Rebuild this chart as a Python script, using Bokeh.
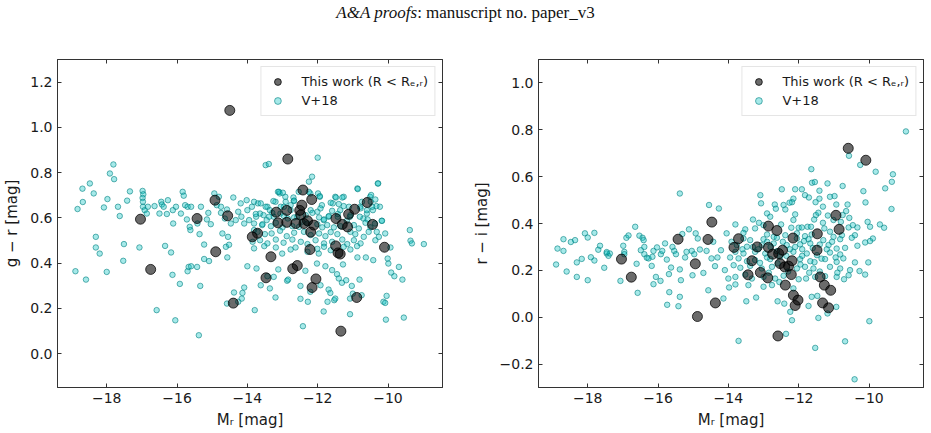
from bokeh.plotting import figure
from bokeh.models import (LinearAxis, FixedTicker, CustomJSTickFormatter, Legend,
                          LegendItem, Div, ColumnDataSource)
from bokeh.layouts import column, row
from bokeh.embed import file_html
from bokeh.resources import INLINE

# ---------------------------------------------------------------- ticks
MR_TICKS = [-18, -16, -14, -12, -10]
GR_TICKS = [0.0, 0.2, 0.4, 0.6, 0.8, 1.0, 1.2]
RI_TICKS = [-0.2, 0.0, 0.2, 0.4, 0.6, 0.8, 1.0]

# ---------------------------------------------------------------- this work (R < R_e,r)
this_gr_mr = [-14.50, -12.85, -12.42, -12.17, -14.92, -12.45, -12.51, -12.88, -13.18, -12.48,
              -14.56, -15.43, -17.04, -10.59, -10.95, -11.12, -11.48, -10.44, -11.30, -11.15,
              -13.13, -12.88, -12.62, -12.39, -12.29, -12.11, -12.20, -13.71, -13.86, -11.49,
              -10.10, -14.90, -12.22, -11.42, -11.36, -16.75, -13.33, -12.71, -12.58, -13.47,
              -12.05, -12.16, -14.40, -10.89, -11.34]
this_gr = [1.075, 0.860, 0.723, 0.681, 0.678, 0.656, 0.633, 0.633, 0.625, 0.613,
           0.609, 0.597, 0.594, 0.668, 0.638, 0.616, 0.597, 0.571, 0.571, 0.560,
           0.578, 0.580, 0.575, 0.575, 0.587, 0.568, 0.537, 0.532, 0.516, 0.476,
           0.470, 0.450, 0.460, 0.445, 0.440, 0.372, 0.428, 0.375, 0.389, 0.335,
           0.330, 0.292, 0.223, 0.248, 0.099]

this_ri_mr = [-10.59, -10.09, -14.47, -15.43, -14.58, -13.71, -12.86, -12.62, -12.16, -10.94,
              -10.85, -11.47, -11.48, -17.04, -16.76, -14.94, -13.84, -13.18, -12.86, -12.74,
              -12.57, -12.46, -13.33, -12.53, -12.40, -12.29, -12.19, -13.09, -13.44, -12.88,
              -12.21, -12.38, -12.15, -12.02, -12.10, -11.39, -11.27, -11.09, -11.32, -11.15,
              -14.37, -14.88, -12.59]
this_ri = [0.721, 0.670, 0.406, 0.333, 0.332, 0.335, 0.389, 0.370, 0.338, 0.435,
           0.375, 0.356, 0.286, 0.248, 0.171, 0.228, 0.298, 0.300, 0.298, 0.269,
           0.272, 0.286, 0.241, 0.229, 0.215, 0.218, 0.241, 0.191, 0.181, 0.168,
           0.182, 0.137, 0.094, 0.073, 0.050, 0.172, 0.137, 0.115, 0.061, 0.040,
           0.061, 0.003, -0.080]

# ---------------------------------------------------------------- V+18, g - r
v18_gr_mr_upper = [-18.83, -18.68, -18.69, -18.48, -18.37, -18.08, -17.98, -17.91, -17.81, -17.79,
                   -17.68, -17.63, -17.42, -17.34, -16.98, -16.96, -16.98, -16.97, -16.97, -16.92,
                   -16.86, -16.83, -16.64, -16.50, -16.45, -16.43, -16.38, -16.26, -16.29, -16.12,
                   -16.03, -16.11, -15.89, -15.84, -15.81, -15.77, -15.70, -15.60, -15.72, -15.64,
                   -15.62, -15.42, -15.36, -15.32, -15.15, -15.11, -15.04, -14.94, -14.87, -14.81,
                   -14.75, -14.75, -14.71, -14.64, -14.58, -14.55, -14.47, -14.40, -14.33, -14.26,
                   -14.19, -14.17, -14.09, -14.02, -14.00, -13.95, -13.87, -13.81, -13.75, -13.70,
                   -13.64, -13.58, -13.48, -13.39, -13.43, -13.45, -13.36, -13.25, -13.20, -13.13,
                   -13.08, -13.06, -12.96, -12.92, -12.85, -12.77, -12.68, -12.58, -12.54, -12.44,
                   -12.25, -12.21, -12.16, -12.00, -11.94, -11.88, -11.83, -11.69, -11.57, -11.50,
                   -11.43, -11.36, -11.26, -11.17, -11.08, -10.87, -10.79, -10.70, -10.60, -10.51,
                   -10.49, -10.43, -10.37, -10.29, -10.32, -10.23, -10.18, -10.08, -9.38, -9.36,
                   -9.32, -8.98]
v18_gr_upper = [0.639, 0.670, 0.729, 0.752, 0.708, 0.646, 0.683, 0.796, 0.836, 0.771,
                0.649, 0.608, 0.676, 0.717, 0.719, 0.704, 0.688, 0.671, 0.649, 0.634,
                0.619, 0.649, 0.652, 0.619, 0.671, 0.659, 0.649, 0.678, 0.617, 0.634,
                0.649, 0.575, 0.619, 0.715, 0.698, 0.656, 0.649, 0.649, 0.593, 0.560,
                0.546, 0.575, 0.528, 0.649, 0.593, 0.622, 0.572, 0.708, 0.656, 0.693,
                0.649, 0.622, 0.531, 0.597, 0.637, 0.516, 0.575, 0.690, 0.590, 0.627,
                0.664, 0.605, 0.575, 0.678, 0.634, 0.590, 0.649, 0.546, 0.605, 0.664,
                0.619, 0.568, 0.833, 0.838, 0.649, 0.590, 0.634, 0.605, 0.671, 0.715,
                0.708, 0.619, 0.649, 0.693, 0.597, 0.634, 0.675, 0.605, 0.715, 0.583,
                0.760, 0.708, 0.782, 0.866, 0.693, 0.656, 0.590, 0.605, 0.664, 0.693,
                0.605, 0.634, 0.693, 0.587, 0.605, 0.730, 0.649, 0.597, 0.619, 0.693,
                0.671, 0.634, 0.575, 0.752, 0.538, 0.649, 0.587, 0.531, 0.546, 0.499,
                0.487, 0.484]

v18_gr_mr_lower = [-18.89, -18.59, -18.31, -18.20, -18.00, -17.53, -17.51, -17.07, -16.34, -16.17,
                   -16.13, -15.92, -16.58, -16.05, -15.70, -15.67, -15.60, -15.43, -15.34, -15.38,
                   -15.23, -15.23, -15.09, -14.61, -14.57, -14.52, -14.58, -14.38, -14.26, -14.16,
                   -14.14, -14.09, -14.00, -13.79, -13.74, -13.62, -13.43, -13.36, -13.20, -13.25,
                   -13.12, -13.01, -12.87, -12.84, -12.49, -12.49, -12.42, -12.35, -12.28, -12.21,
                   -12.02, -11.97, -11.92, -11.83, -11.78, -11.72, -11.69, -11.64, -11.59, -11.53,
                   -11.50, -11.45, -11.40, -11.31, -11.28, -11.19, -11.08, -11.08, -11.03, -11.00,
                   -10.81, -10.75, -10.87, -10.63, -10.42, -10.13, -10.08, -10.04, -10.06, -10.01,
                   -9.99, -9.91, -9.82, -9.69, -9.59, -9.55, -18.31]
v18_gr_lower = [0.364, 0.327, 0.469, 0.442, 0.361, 0.410, 0.484, 0.469, 0.476, 0.447,
                0.348, 0.308, 0.192, 0.147, 0.364, 0.383, 0.386, 0.383, 0.299, 0.081,
                0.482, 0.418, 0.409, 0.472, 0.425, 0.481, 0.221, 0.270, 0.229, 0.243,
                0.268, 0.292, 0.386, 0.192, 0.376, 0.302, 0.342, 0.288, 0.248, 0.339,
                0.372, 0.442, 0.322, 0.327, 0.299, 0.242, 0.121, 0.366, 0.229, 0.273,
                0.398, 0.442, 0.302, 0.186, 0.386, 0.229, 0.283, 0.268, 0.369, 0.236,
                0.243, 0.351, 0.332, 0.313, 0.394, 0.324, 0.243, 0.174, 0.299, 0.265,
                0.327, 0.258, 0.425, 0.425, 0.413, 0.229, 0.224, 0.255, 0.150, 0.420,
                0.398, 0.358, 0.342, 0.383, 0.327, 0.159, 0.516]

v18_gr_mr_core = [-13.10, -12.99, -12.25, -11.99, -11.94,
                  -12.91, -12.69, -12.67, -11.63, -11.48, -11.30, -10.86, -10.74, -10.48, -10.36, -10.33, -10.28,
                  -13.81, -13.62, -13.48, -13.26, -13.05, -12.77, -12.20, -12.01, -11.92, -11.59, -11.40, -11.26, -11.11, -10.78, -10.60, -10.45, -10.17,
                  -13.76, -13.54, -13.38, -13.29, -12.96, -12.67, -12.34, -12.15, -11.96, -11.82, -11.68, -11.43, -11.07, -10.80, -10.58,
                  -13.81, -13.57, -13.33, -13.19, -13.00, -12.72, -12.53, -12.29, -12.01, -11.87, -11.73, -11.54, -11.35, -10.97, -10.83, -10.64, -10.50,
                  -13.71, -13.50, -13.31, -13.07, -12.88, -12.67, -12.39, -12.20, -11.96, -11.78, -11.63, -11.44, -11.07, -10.93, -10.69, -10.55,
                  -13.85, -13.64, -13.43, -13.19, -12.97, -12.72, -12.48, -12.29, -12.06, -11.82, -11.59, -11.30, -11.16, -10.97, -10.78, -10.36, -10.26,
                  -13.81, -13.52, -13.19, -12.77, -12.63, -12.29, -12.01, -11.82, -11.63, -11.26, -11.07, -10.88, -9.93]
v18_gr_core = [0.715, 0.711, 0.715, 0.708, 0.696,
               0.671, 0.690, 0.676, 0.667, 0.690, 0.690, 0.727, 0.671, 0.701, 0.681, 0.652, 0.752,
               0.671, 0.664, 0.649, 0.674, 0.649, 0.656, 0.634, 0.627, 0.642, 0.631, 0.661, 0.652, 0.649, 0.642, 0.634, 0.649, 0.587,
               0.617, 0.612, 0.605, 0.622, 0.608, 0.602, 0.612, 0.622, 0.602, 0.593, 0.608, 0.617, 0.612, 0.605, 0.593,
               0.575, 0.572, 0.563, 0.578, 0.558, 0.563, 0.560, 0.575, 0.572, 0.558, 0.568, 0.558, 0.563, 0.568, 0.553, 0.578, 0.558,
               0.538, 0.528, 0.531, 0.543, 0.519, 0.534, 0.538, 0.524, 0.531, 0.519, 0.537, 0.528, 0.538, 0.528, 0.516, 0.538,
               0.494, 0.501, 0.487, 0.504, 0.490, 0.504, 0.494, 0.484, 0.501, 0.487, 0.494, 0.504, 0.484, 0.501, 0.487, 0.501, 0.516,
               0.465, 0.475, 0.469, 0.460, 0.469, 0.450, 0.463, 0.472, 0.457, 0.472, 0.460, 0.475, 0.469]

# ---------------------------------------------------------------- V+18, r - i
v18_ri_mr_bright = [-15.38, -18.90, -18.86, -18.69, -18.69, -18.60, -18.48, -18.36, -18.31, -18.31,
                    -18.17, -18.08, -18.00, -18.00, -17.91, -17.81, -17.81, -17.70, -17.65, -17.53,
                    -17.46, -17.41, -17.37, -17.46, -17.07, -16.99, -16.96, -16.96, -16.90, -16.84,
                    -16.65, -16.61, -16.58, -16.53, -16.44, -16.41, -16.49, -16.39, -16.39, -16.32,
                    -16.27, -16.16, -16.18, -16.13, -16.13, -16.06, -16.03, -15.92, -15.93, -15.88,
                    -15.80, -15.75, -15.74, -15.68, -15.63, -15.69, -15.59, -15.54, -15.49, -15.42,
                    -15.38, -15.35, -15.38, -15.31, -15.23, -15.19, -15.12, -15.04, -15.02, -14.97,
                    -14.93, -14.87, -14.81, -14.71, -14.62, -14.55, -14.57, -14.48, -14.43, -14.38,
                    -14.31, -14.27, -14.21, -14.14, -14.10, -14.05, -14.00, -13.95, -13.91, -13.98]
v18_ri_bright = [0.528, 0.225, 0.293, 0.333, 0.283, 0.195, 0.321, 0.329, 0.172, 0.234,
                 0.249, 0.358, 0.340, 0.158, 0.256, 0.242, 0.360, 0.288, 0.305, 0.211,
                 0.272, 0.262, 0.272, 0.278, 0.155, 0.305, 0.279, 0.269, 0.339, 0.349,
                 0.386, 0.228, 0.104, 0.348, 0.339, 0.329, 0.286, 0.300, 0.269, 0.254,
                 0.251, 0.258, 0.219, 0.283, 0.141, 0.172, 0.298, 0.269, 0.155, 0.283,
                 0.315, 0.246, 0.053, 0.107, 0.212, 0.184, 0.300, 0.283, 0.269, 0.047,
                 0.087, 0.158, 0.204, 0.355, 0.255, 0.279, 0.375, 0.283, 0.179, 0.269,
                 0.358, 0.336, 0.289, 0.189, 0.283, 0.479, 0.115, 0.251, 0.322, 0.218,
                 0.255, 0.464, 0.286, 0.080, 0.201, 0.358, 0.165, 0.255, 0.322, 0.127]

v18_ri_mr_red = [-8.95, -10.57, -10.25, -9.81, -9.32, -9.35, -9.54, -9.36, -10.16, -10.10,
                 -11.64, -11.62, -11.54, -11.18, -10.75, -12.48, -12.10, -11.91, -11.82, -11.71,
                 -11.41, -13.09, -13.07, -12.15, -12.19, -12.26, -11.52, -11.41, -11.11, -10.98,
                 -10.93, -10.61, -12.68, -12.65, -12.43, -12.38, -11.31, -10.65, -12.90, -12.81,
                 -12.10, -11.51, -11.44, -11.17, -10.75, -10.56, -13.30, -12.15, -11.56, -11.31,
                 -11.01, -10.80, -13.13, -13.80, -13.52, -13.24, -13.00, -12.50, -12.21, -12.00,
                 -11.91, -11.75, -11.65, -11.27, -11.11, -10.58, -10.46, -10.33, -10.40, -10.04,
                 -9.97, -9.69, -9.57, -9.89, -13.57, -12.90, -12.71, -12.38, -12.05, -11.82,
                 -11.63, -11.01, -10.77]
v18_ri_red = [0.793, 0.689, 0.650, 0.621, 0.610, 0.578, 0.550, 0.462, 0.538, 0.490,
              0.632, 0.574, 0.577, 0.571, 0.560, 0.546, 0.546, 0.546, 0.521, 0.511,
              0.540, 0.521, 0.486, 0.506, 0.491, 0.489, 0.491, 0.506, 0.514, 0.517,
              0.481, 0.481, 0.481, 0.463, 0.479, 0.460, 0.472, 0.453, 0.443, 0.429,
              0.439, 0.436, 0.446, 0.434, 0.436, 0.424, 0.417, 0.415, 0.417, 0.403,
              0.415, 0.407, 0.403, 0.396, 0.375, 0.379, 0.393, 0.396, 0.382, 0.382,
              0.383, 0.386, 0.386, 0.379, 0.365, 0.383, 0.393, 0.383, 0.350, 0.407,
              0.386, 0.396, 0.382, 0.336, 0.360, 0.353, 0.343, 0.350, 0.358, 0.346,
              0.353, 0.343, 0.350]

v18_ri_mr_faint = [-13.57, -13.38, -13.00, -12.62, -12.05, -11.72, -11.30, -10.82, -10.49, -10.11,
                   -9.97, -10.33, -13.76, -13.47, -13.05, -12.71, -12.34, -11.96, -11.67, -11.15,
                   -10.92, -10.68, -13.80, -13.57, -13.24, -12.95, -12.62, -12.15, -11.77, -11.48,
                   -11.11, -10.82, -13.71, -13.47, -13.24, -12.81, -12.53, -11.96, -11.67, -11.25,
                   -10.92, -10.73, -10.40, -10.02, -13.85, -13.66, -13.38, -13.05, -12.76, -12.05,
                   -11.82, -11.58, -11.11, -10.82, -10.54, -10.27, -10.11, -13.80, -13.52, -13.33,
                   -13.00, -12.67, -12.43, -12.00, -11.79, -11.53, -10.92, -10.71, -10.58, -13.80,
                   -13.43, -13.00, -12.76, -12.15, -13.21, -13.49, -12.60, -12.41, -12.24, -12.19,
                   -11.72, -11.63, -11.47, -11.44, -11.18, -10.93, -9.99, -13.71, -12.36, -11.53,
                   -10.68, -10.41,
                   -13.30, -13.15, -12.90, -12.80, -12.45, -12.25, -12.10, -11.90, -11.85, -11.60,
                   -11.40, -11.20, -11.05, -10.95, -11.35, -11.55, -11.90, -12.35, -12.60, -12.90,
                   -13.10, -13.60, -11.95, -12.30, -11.40, -10.90, -12.85, -11.70, -11.25, -12.55]
v18_ri_faint = [0.336, 0.329, 0.333, 0.339, 0.336, 0.333, 0.329, 0.333, 0.339, 0.319,
                0.325, 0.305, 0.308, 0.301, 0.308, 0.315, 0.308, 0.311, 0.315, 0.308,
                0.293, 0.296, 0.279, 0.272, 0.279, 0.272, 0.282, 0.279, 0.272, 0.265,
                0.276, 0.268, 0.251, 0.239, 0.244, 0.248, 0.258, 0.248, 0.239, 0.248,
                0.236, 0.251, 0.234, 0.234, 0.222, 0.211, 0.219, 0.208, 0.215, 0.208,
                0.215, 0.208, 0.215, 0.208, 0.201, 0.197, 0.182, 0.172, 0.182, 0.165,
                0.172, 0.165, 0.177, 0.162, 0.165, 0.172, 0.172, 0.162, 0.179, 0.140,
                0.137, 0.130, 0.137, 0.123, 0.084, 0.068, 0.068, 0.058, 0.023, -0.013,
                0.048, 0.087, 0.091, -0.003, 0.016, 0.044, -0.017, -0.101, -0.071, -0.131,
                -0.103, -0.265,
                0.300, 0.290, 0.322, 0.300, 0.322, 0.290, 0.300, 0.290, 0.325, 0.295,
                0.310, 0.290, 0.322, 0.255, 0.250, 0.235, 0.262, 0.262, 0.230, 0.255,
                0.232, 0.290, 0.225, 0.195, 0.195, 0.190, 0.190, 0.190, 0.175, 0.150]

v18_gr_mr = v18_gr_mr_upper + v18_gr_mr_lower + v18_gr_mr_core
v18_gr = v18_gr_upper + v18_gr_lower + v18_gr_core
v18_ri_mr = v18_ri_mr_bright + v18_ri_mr_red + v18_ri_mr_faint
v18_ri = v18_ri_bright + v18_ri_red + v18_ri_faint

# ---------------------------------------------------------------- styling
FONT = "DejaVu Sans"
FRAME = "#333333"
TEXT = "#1a1a1a"
MR_RANGE = (-19.4, -8.45)


def tick_formatter(decimals):
    return CustomJSTickFormatter(
        code="return tick.toFixed(%d).replace('-', '\u2212');" % decimals)


def style_axis(axis, ticks, decimals):
    axis.ticker = FixedTicker(ticks=ticks)
    axis.formatter = tick_formatter(decimals)
    axis.axis_line_color = FRAME
    axis.axis_line_width = 1
    axis.major_tick_line_color = FRAME
    axis.major_tick_in = 4
    axis.major_tick_out = 0
    axis.minor_tick_line_color = None
    axis.major_label_standoff = 5
    axis.major_label_text_font = FONT
    axis.major_label_text_color = TEXT
    axis.major_label_text_font_size = "14px"
    axis.axis_label_text_font = FONT
    axis.axis_label_text_font_size = "15px"
    axis.axis_label_text_font_style = "normal"
    axis.axis_label_text_color = TEXT


def mirror_axis(ticks):
    # tick marks only, on the opposite side of the frame
    return LinearAxis(ticker=FixedTicker(ticks=ticks), axis_line_color=FRAME,
                      major_tick_line_color=FRAME, major_tick_in=4, major_tick_out=0,
                      minor_tick_line_color=None, major_label_text_font_size="0px",
                      major_label_text_color=None, major_label_text_alpha=0,
                      major_label_standoff=0)


def make_panel(width, border_left, border_right, y_range, y_ticks, y_label,
               x_this, y_this, x_v18, y_v18):
    p = figure(width=width, height=407, x_range=MR_RANGE, y_range=y_range,
               output_backend="svg", toolbar_location=None,
               min_border_left=border_left, min_border_right=border_right,
               min_border_top=33, min_border_bottom=46)
    p.grid.visible = False
    p.outline_line_color = FRAME
    p.outline_line_width = 1
    p.background_fill_color = "white"
    p.border_fill_color = "white"

    xa = p.below[0]
    ya = p.left[0]
    style_axis(xa, MR_TICKS, 0)
    style_axis(ya, y_ticks, 1)
    xa.axis_label = "M\u1d63 [mag]"
    xa.axis_label_standoff = 5
    ya.axis_label = y_label
    ya.axis_label_standoff = 6

    p.add_layout(mirror_axis(MR_TICKS), "above")
    p.add_layout(mirror_axis(y_ticks), "right")

    src_v18 = ColumnDataSource(data=dict(mr=x_v18, col=y_v18))
    src_this = ColumnDataSource(data=dict(mr=x_this, col=y_this))

    r_v18 = p.scatter("mr", "col", source=src_v18, size=5.5,
                      fill_color="#00bfbf", fill_alpha=0.35,
                      line_color="#008080", line_alpha=0.6, line_width=1)
    r_this = p.scatter("mr", "col", source=src_this, size=10,
                       fill_color="black", fill_alpha=0.58,
                       line_color="black", line_alpha=0.75, line_width=1)

    legend = Legend(items=[LegendItem(label="This work (R < R\u2091,\u1d63)", renderers=[r_this]),
                           LegendItem(label="V+18", renderers=[r_v18])],
                    location="top_right")
    legend.label_text_font = FONT
    legend.label_text_font_size = "13px"
    legend.label_text_color = TEXT
    legend.border_line_color = "#cccccc"
    legend.border_line_width = 1
    legend.background_fill_color = "white"
    legend.background_fill_alpha = 0.8
    legend.padding = 6
    legend.spacing = 2
    legend.margin = 7
    legend.glyph_width = 20
    legend.glyph_height = 17
    legend.label_height = 17
    legend.label_standoff = 14
    p.add_layout(legend)
    return p


p_gr = make_panel(465, 56, 23, (-0.15, 1.3), GR_TICKS, "g \u2212 r [mag]",
                  this_gr_mr, this_gr, v18_gr_mr, v18_gr)
p_ri = make_panel(466, 73, 8, (-0.3, 1.1), RI_TICKS, "r \u2212 i [mag]",
                  this_ri_mr, this_ri, v18_ri_mr, v18_ri)

header = Div(text="<i>A&amp;A proofs</i>: manuscript no. paper_v3",
             width=931, height=26, margin=(0, 0, 0, 0),
             styles={"font-family": "'Liberation Serif', serif", "font-size": "17px",
                     "text-align": "center", "color": "#111111", "line-height": "26px",
                     "width": "931px"})

layout = column(header, row(p_gr, p_ri, spacing=0), spacing=0)

open("out.html", "w").write(file_html(layout, INLINE))
